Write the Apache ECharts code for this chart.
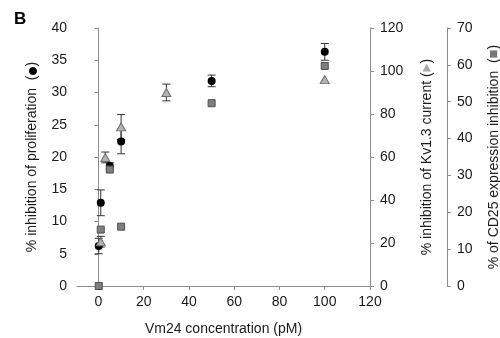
<!DOCTYPE html>
<html>
<head>
<meta charset="utf-8">
<script src="https://cdn.jsdelivr.net/npm/echarts@6/dist/echarts.min.js"></script>
<style>
  html, body { margin: 0; padding: 0; background: #fff; }
  #chart { width: 500px; height: 338px; }
</style>
</head>
<body>
<div id="chart"></div>
<script>
// proliferation (left axis): [conc, mean, sd]
const prolifData = [
  [0.1, 6.2, 1.2],
  [1, 12.9, 2.0],
  [5, 18.6, 0.5],
  [10, 22.4, 1.9],
  [50, 31.8, 0.9],
  [100, 36.3, 1.3],
];
// Kv1.3 current (middle axis)
const kvData = [
  [1, 20.6, 2.5],
  [3, 59.8, 2.5],
  [10, 74, 5.8],
  [30, 90, 3.9],
  [100, 96, 0],
];
// CD25 expression (right axis), no error bars
const cd25Data = [
  [0.1, 0],
  [1, 15.3],
  [5, 31.6],
  [10, 16.1],
  [50, 49.6],
  [100, 59.7],
];
const xTicks = [0, 20, 40, 60, 80, 100, 120];

const axisGray = '#8c8c8c';
const textColor = '#1a1a1a';
const font = 'Arial, "Liberation Sans", sans-serif';
const symFont = '"Noto Sans CJK SC"';

const chart = echarts.init(document.getElementById('chart'), null, { renderer: 'canvas' });

function errorBars(items) {
  return items.filter((d) => d[2] > 0).map((d) => [d[0], d[1] - d[2], d[1] + d[2]]);
}

function renderErrorBar(params, api) {
  const lo = api.coord([api.value(0), api.value(1)]);
  const hi = api.coord([api.value(0), api.value(2)]);
  const cap = 4;
  const style = { stroke: '#333', lineWidth: 1 };
  return {
    type: 'group',
    children: [
      { type: 'line', shape: { x1: lo[0], y1: lo[1], x2: hi[0], y2: hi[1] }, style },
      { type: 'line', shape: { x1: lo[0] - cap, y1: lo[1], x2: lo[0] + cap, y2: lo[1] }, style },
      { type: 'line', shape: { x1: hi[0] - cap, y1: hi[1], x2: hi[0] + cap, y2: hi[1] }, style },
    ],
  };
}

// axis title with a small coloured marker glyph between the parentheses
function nameStyle(markColor, markSize) {
  return {
    color: textColor, fontSize: 14, fontFamily: font, lineHeight: 16,
    rich: {
      m: { color: markColor, fontSize: markSize, fontFamily: symFont, lineHeight: 16, verticalAlign: 'middle' },
      p: { color: textColor, fontSize: 14, fontFamily: font, lineHeight: 16, verticalAlign: 'middle' },
    },
  };
}

function yAxis(opts) {
  return Object.assign({
    type: 'value',
    nameLocation: 'middle',
    axisLine: { show: true, lineStyle: { color: axisGray, width: 1 } },
    axisTick: { show: true, inside: false, length: 4, lineStyle: { color: axisGray } },
    axisLabel: { color: textColor, fontSize: 14, fontFamily: font, margin: 10 },
    splitLine: { show: false },
  }, opts);
}

const option = {
  animation: false,
  backgroundColor: '#fff',
  title: {
    text: 'B',
    left: 9,
    top: 6,
    textStyle: { fontSize: 17, fontWeight: 'bold', color: '#000', fontFamily: font },
  },
  grid: { left: 77, right: 130, top: 28, bottom: 52, outerBoundsMode: 'none' },
  xAxis: {
    type: 'value',
    min: -9.5,
    max: 120,
    name: 'Vm24 concentration (pM)',
    nameLocation: 'middle',
    nameGap: 36,
    nameTextStyle: { color: textColor, fontSize: 14, fontFamily: font },
    axisLine: { show: true, onZero: false, lineStyle: { color: axisGray } },
    axisTick: { show: true, length: 4, customValues: xTicks, lineStyle: { color: axisGray } },
    axisLabel: { color: textColor, fontSize: 14, fontFamily: font, margin: 9, customValues: xTicks },
    splitLine: { show: false },
  },
  yAxis: [
    yAxis({
      position: 'left',
      min: 0, max: 40, interval: 5,
      name: '{p|% inhibition of proliferation  (}{m|●}{p|)}',
      nameGap: 35,
      nameTextStyle: nameStyle('#000', 9),
    }),
    yAxis({
      position: 'right',
      min: 0, max: 120, interval: 20,
      // ▶ turns upright once the title is rotated
      name: '{p|% inhibition of Kv1.3 current (}{m|▶}{p|)}',
      nameGap: 49,
      nameTextStyle: nameStyle('#a8a8a8', 9),
    }),
    yAxis({
      position: 'right',
      offset: 77,
      min: 0, max: 70, interval: 10,
      name: '{p|% of CD25 expression inhibition  (}{m|■}{p|)}',
      nameGap: 39,
      nameTextStyle: nameStyle('#777', 9),
    }),
  ],
  series: [
    {
      type: 'custom',
      yAxisIndex: 0,
      renderItem: renderErrorBar,
      data: errorBars(prolifData),
      z: 1,
    },
    {
      type: 'custom',
      yAxisIndex: 1,
      renderItem: renderErrorBar,
      data: errorBars(kvData),
      z: 1,
    },
    {
      name: 'proliferation',
      type: 'scatter',
      yAxisIndex: 0,
      symbol: 'circle',
      symbolSize: 8,
      itemStyle: { color: '#000', opacity: 1 },
      data: prolifData.map((d) => [d[0], d[1]]),
      z: 2,
    },
    {
      name: 'Kv1.3',
      type: 'scatter',
      yAxisIndex: 1,
      symbol: 'triangle',
      symbolSize: [9, 8],
      itemStyle: { color: '#b4b4b4', borderColor: '#6e6e6e', borderWidth: 1, opacity: 1 },
      data: kvData.map((d) => [d[0], d[1]]),
      z: 3,
    },
    {
      name: 'CD25',
      type: 'scatter',
      yAxisIndex: 2,
      symbol: 'rect',
      symbolSize: 7,
      itemStyle: { color: '#7f7f7f', borderColor: '#4d4d4d', borderWidth: 1, opacity: 1 },
      data: cd25Data,
      z: 4,
    },
  ],
};

chart.setOption(option);
</script>
</body>
</html>
